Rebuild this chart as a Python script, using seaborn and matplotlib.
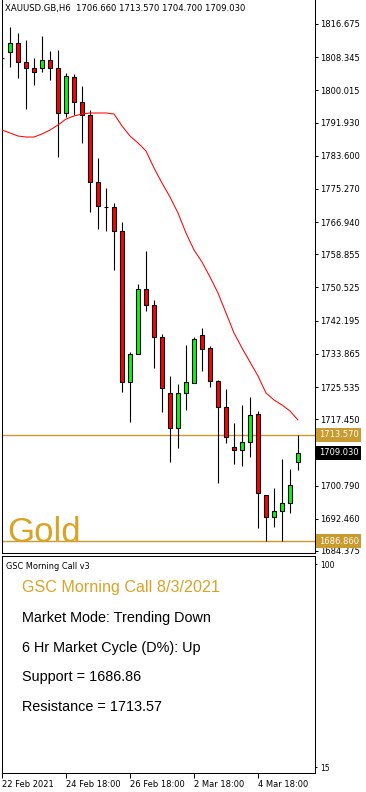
import matplotlib
matplotlib.use("Agg")
import matplotlib.pyplot as plt
import seaborn as sns
import numpy as np
import pandas as pd

# ---------------- data ----------------
header_text = "XAUUSD.GB,H6  1706.660 1713.570 1704.700 1709.030"
opens = [1808.14, 1809.64, 1811.90, 1807.13, 1805.63, 1805.63, 1807.64, 1805.63, 1794.33, 1803.37,
         1797.09, 1793.83, 1777.00, 1770.73, 1770.73, 1764.70, 1726.79, 1733.82, 1750.14, 1746.13,
         1738.09, 1724.03, 1715.24, 1724.03, 1726.54, 1738.59, 1735.33, 1727.04, 1720.52, 1710.47,
         1709.72, 1711.73, 1718.76, 1698.43, 1692.90, 1694.43, 1696.44, 1706.66]
highs = [1812.66, 1815.92, 1814.41, 1812.66, 1808.14, 1813.66, 1809.90, 1810.15, 1804.37, 1804.12,
         1801.11, 1795.08, 1783.03, 1775.50, 1771.73, 1766.96, 1734.32, 1751.40, 1759.68, 1747.38,
         1738.84, 1728.30, 1726.29, 1736.08, 1738.09, 1740.35, 1735.83, 1727.29, 1725.03, 1716.50,
         1721.02, 1723.03, 1719.51, 1698.43, 1700.18, 1707.46, 1704.95, 1713.57]
lows = [1805.88, 1805.88, 1803.12, 1795.33, 1801.36, 1804.62, 1802.61, 1783.28, 1793.33, 1793.83,
        1786.80, 1769.47, 1765.20, 1764.70, 1754.91, 1724.28, 1716.75, 1733.82, 1744.62, 1730.31,
        1719.26, 1706.71, 1710.22, 1719.77, 1726.54, 1729.55, 1725.54, 1701.43, 1711.48, 1706.20,
        1705.70, 1707.96, 1690.14, 1686.87, 1690.39, 1686.87, 1693.93, 1704.70]
closes = [1808.14, 1811.90, 1807.13, 1805.63, 1804.62, 1807.64, 1805.63, 1794.33, 1803.62, 1797.09,
          1793.83, 1777.00, 1770.98, 1770.73, 1764.70, 1726.79, 1733.82, 1750.14, 1746.13, 1738.09,
          1725.28, 1715.24, 1724.03, 1726.79, 1737.59, 1735.08, 1727.04, 1720.52, 1712.98, 1709.72,
          1711.73, 1718.51, 1698.95, 1692.90, 1694.43, 1696.44, 1700.93, 1709.03]
ma_values = [1790.06, 1789.31, 1788.55, 1788.30, 1788.30, 1789.06, 1790.06, 1791.32, 1792.82, 1793.58,
             1794.08, 1794.33, 1794.33, 1794.33, 1794.08, 1791.07, 1788.55, 1786.80, 1784.79, 1780.52,
             1776.75, 1773.24, 1769.22, 1764.20, 1759.93, 1756.92, 1753.15, 1749.14, 1744.12, 1739.10,
             1735.33, 1731.81, 1728.30, 1724.03, 1722.27, 1721.02, 1719.51, 1717.25]
support = 1686.86
resistance = 1713.57
last_price = 1709.03
price_ticks = [1816.675, 1808.345, 1800.015, 1791.930, 1783.600, 1775.270, 1766.940, 1758.855,
               1750.525, 1742.195, 1733.865, 1725.535, 1717.450, 1700.790, 1692.460, 1684.375]
date_tick_idx = [0, 8, 16, 24, 32]
date_tick_labels = ["22 Feb 2021", "24 Feb 18:00", "26 Feb 18:00", "2 Mar 18:00", "4 Mar 18:00"]
indicator_ticks = [100, 15]
indicator_name = "GSC Morning Call v3"
panel_title = "GSC Morning Call 8/3/2021"
panel_lines = ["Market Mode: Trending Down", "6 Hr Market Cycle (D%): Up",
               "Support = 1686.86", "Resistance = 1713.57"]
chart_label = "Gold"

# ---------------- style ----------------
sns.set_style("white")
plt.rcParams['font.family'] = ['DejaVu Sans']
plt.rcParams['axes.edgecolor'] = 'black'
plt.rcParams['axes.linewidth'] = 0.75

df = pd.DataFrame({"idx": np.arange(len(opens)), "open": opens, "high": highs,
                   "low": lows, "close": closes, "ma": ma_values})

W, H = 366, 792
fig = plt.figure(figsize=(W / 100, H / 100), dpi=100)
fig.patch.set_facecolor('white')

ax = fig.add_axes([1.5 / W, 1 - 553 / H, (315 - 1.5) / W, 553 / H])
ax2 = fig.add_axes([1.5 / W, 1 - 773 / H, (315 - 1.5) / W, (773 - 556) / H], sharex=ax)

line_gold = '#c99a2e'
text_gold = '#d9a326'

# wicks
ax.vlines(df["idx"], df["low"], df["high"], color='black', lw=0.8, zorder=2)
# bodies
colors = np.where(df["close"] >= df["open"], '#00ff00', '#ff0000')
ax.bar(df["idx"], df["close"] - df["open"], bottom=df["open"], width=0.5,
       color=colors, edgecolor='black', linewidth=0.8, zorder=3)
# moving average
sns.lineplot(data=df, x="idx", y="ma", ax=ax, color='#ff0000', linewidth=0.75, zorder=4)

ax.axhline(resistance, color=line_gold, lw=1.0, zorder=1)
ax.axhline(support, color=line_gold, lw=1.0, zorder=1)

ax.set_xlim(-0.0625, 39.125)
ax.set_ylim(1683.86, 1822.70)
ax.set_xlabel("")
ax.set_ylabel("")
ax.spines['top'].set_visible(False)
ax.yaxis.tick_right()
ax.set_yticks(price_ticks)
ax.set_yticklabels([f"{v:.3f}" for v in price_ticks])
ax.tick_params(axis='y', direction='out', length=2.5, width=0.75, pad=1.5,
               labelsize=6, colors='black', right=True, left=False)
ax.tick_params(axis='x', bottom=False, labelbottom=False)

# price labels on the right axis
ytr = ax.get_yaxis_transform()
for val, fc in [(resistance, line_gold), (last_price, 'black'), (support, line_gold)]:
    ax.text(1.0115, val, f"{val:.3f}", transform=ytr, ha='left', va='center',
            fontsize=6, color='white', clip_on=False, zorder=10,
            bbox=dict(boxstyle='square,pad=0.3', fc=fc, ec='none'))

# indicator panel
ax2.set_ylim(12.49, 103.35)
ax2.yaxis.tick_right()
ax2.set_yticks(indicator_ticks)
ax2.set_yticklabels([str(v) for v in indicator_ticks])
ax2.tick_params(axis='y', direction='out', length=1.5, width=0.75, pad=2,
                labelsize=5.5, colors='black', right=True, left=False)
ax2.set_xticks(date_tick_idx)
ax2.set_xticklabels(date_tick_labels)
for lbl in ax2.get_xticklabels():
    lbl.set_ha('left')
ax2.tick_params(axis='x', direction='out', length=3.5, width=0.75, pad=1.5,
                labelsize=6, colors='black', bottom=True)
ax2.set_xlabel("")
ax2.set_ylabel("")

# texts
def fig_text(x, y, s, **kw):
    fig.text(x / W, 1 - y / H, s, va='baseline', ha='left', **kw)

fig_text(5, 11, header_text, fontsize=6.1, color='black')
fig_text(7, 542, chart_label, fontsize=25, color=text_gold, family=['Liberation Sans'])
fig_text(6, 569, indicator_name, fontsize=5.9, color='black')
fig_text(22, 592, panel_title, fontsize=11.6, color=text_gold, family=['Liberation Sans'])
for k, s in enumerate(panel_lines):
    fig_text(22, 622 + 29.7 * k, s, fontsize=10.4, color='black', family=['Liberation Sans'])

fig.savefig("out.png", dpi=100, facecolor='white')
